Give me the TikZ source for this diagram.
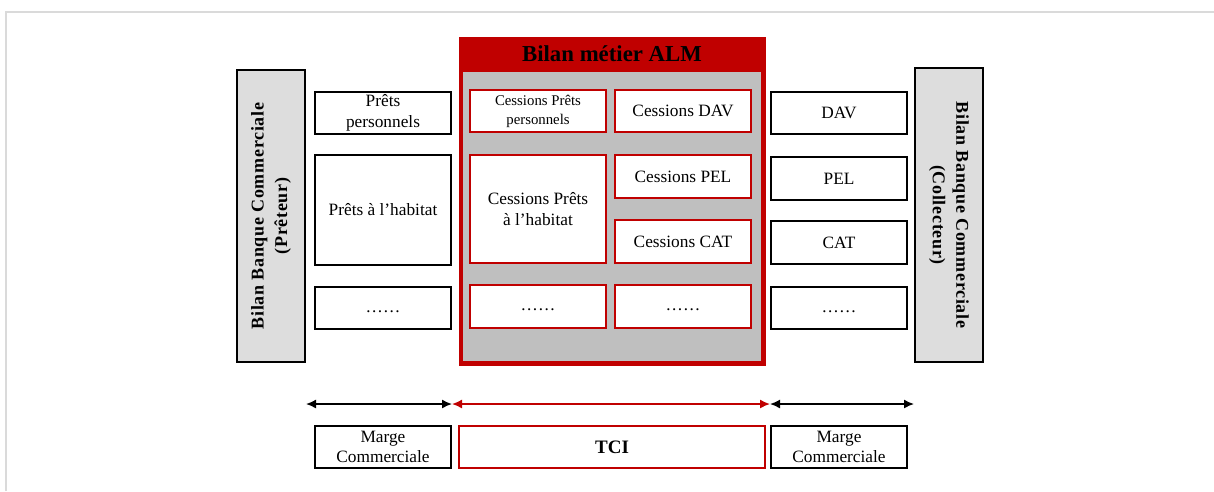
\documentclass[tikz,border=0pt]{standalone}
\usepackage{fontspec}
\setmainfont{Liberation Serif}
\newfontfamily\spacedbold[LetterSpace=4]{Liberation Serif Bold}
\usetikzlibrary{arrows.meta}
\definecolor{almred}{HTML}{C00000}
\definecolor{almgray}{HTML}{BFBFBF}
\definecolor{sidegray}{HTML}{DDDDDD}
\definecolor{framegray}{HTML}{DADADA}
\begin{document}
\begin{tikzpicture}[x=1pt,y=1pt,
  txt/.style={font=\fontsize{17.3}{20.5}\selectfont},
  smalltxt/.style={font=\fontsize{14.8}{19}\selectfont},
  blackbox/.style={draw=black, line width=2pt, fill=white, minimum width=136pt, minimum height=42pt, inner sep=0pt, align=center, txt},
  redbox/.style={draw=almred, line width=2.5pt, fill=white, minimum width=136pt, minimum height=42pt, inner sep=0pt, align=center, txt},
  sidebox/.style={draw=black, line width=2pt, fill=sidegray, minimum width=68pt, inner sep=0pt},
  sidelabel/.style={align=center, font=\spacedbold\fontsize{18}{23.5}\selectfont},
  harrow/.style={line width=1.5pt, {Latex[length=10pt,width=9pt]}-{Latex[length=10pt,width=9pt]}}
]
\useasboundingbox (0,0) rectangle (1214,-491);
% frame
\draw[framegray, line width=2pt] (6,-491) -- (6,-12) -- (1214,-12);

% side boxes
\node[sidebox, minimum height=292pt] (lside) at (271,-216) {};
\node[sidelabel, rotate=90] (lsidetxt) at (lside.center) {Bilan Banque Commerciale\\(Prêteur)};
\node[sidebox, minimum height=294pt] (rside) at (949,-215) {};
\node[sidelabel, rotate=-90] (rsidetxt) at (rside.center) {Bilan Banque Commerciale\\(Collecteur)};

% left column
\node[blackbox] (pp) at (383,-113) {Prêts\\personnels};
\node[blackbox, minimum height=110pt] (ph) at (383,-210) {Prêts à l’habitat};
\node[blackbox] (ld) at (383,-308) {\strut ……};

% ALM block
\node[draw=almred, fill=almred, line width=1pt, minimum width=306pt, minimum height=328pt, inner sep=0pt] (alm) at (612,-201) {};
\node[fill=almgray, minimum width=298pt, minimum height=289pt, inner sep=0pt] (almin) at (612,-216.5) {};
\node[font=\bfseries\fontsize{22.8}{26}\selectfont] (almtitle) at (612,-54) {Bilan métier ALM};

\node[redbox, smalltxt] (cpp) at (538,-111) {Cessions Prêts\\personnels};
\node[redbox] (cdav) at (683,-111) {Cessions DAV};
\node[redbox, minimum height=108pt] (cph) at (538,-209) {Cessions Prêts\\à l’habitat};
\node[redbox, minimum height=43pt] (cpel) at (683,-176.5) {Cessions PEL};
\node[redbox, minimum height=43pt] (ccat) at (683,-241.5) {Cessions CAT};
\node[redbox, minimum height=43pt] (cd1) at (538,-306.5) {\strut ……};
\node[redbox, minimum height=43pt] (cd2) at (683,-306.5) {\strut ……};

% right column
\node[blackbox] (dav) at (839,-113) {DAV};
\node[blackbox, minimum height=43pt] (pel) at (839,-178.5) {PEL};
\node[blackbox, minimum height=43pt] (cat) at (839,-242.5) {CAT};
\node[blackbox] (rd) at (839,-308) {\strut ……};

% bottom boxes
\node[blackbox] (mc1) at (383,-447) {Marge\\Commerciale};
\node[redbox, line width=2pt, minimum width=306pt, font=\bfseries\fontsize{19}{22}\selectfont] (tci) at (612,-447) {TCI};
\node[blackbox] (mc2) at (839,-447) {Marge\\Commerciale};

% arrows
\coordinate (a1) at (lside.east |- 0,-404);
\coordinate (a2) at (pp.east |- 0,-404);
\coordinate (a3) at (dav.west |- 0,-404);
\coordinate (a4) at (rside.west |- 0,-404);
\draw[harrow, black] (a1) -- (a2);
\draw[harrow, almred] (a2) -- (a3);
\draw[harrow, black] (a3) -- (a4);
\end{tikzpicture}
\end{document}
